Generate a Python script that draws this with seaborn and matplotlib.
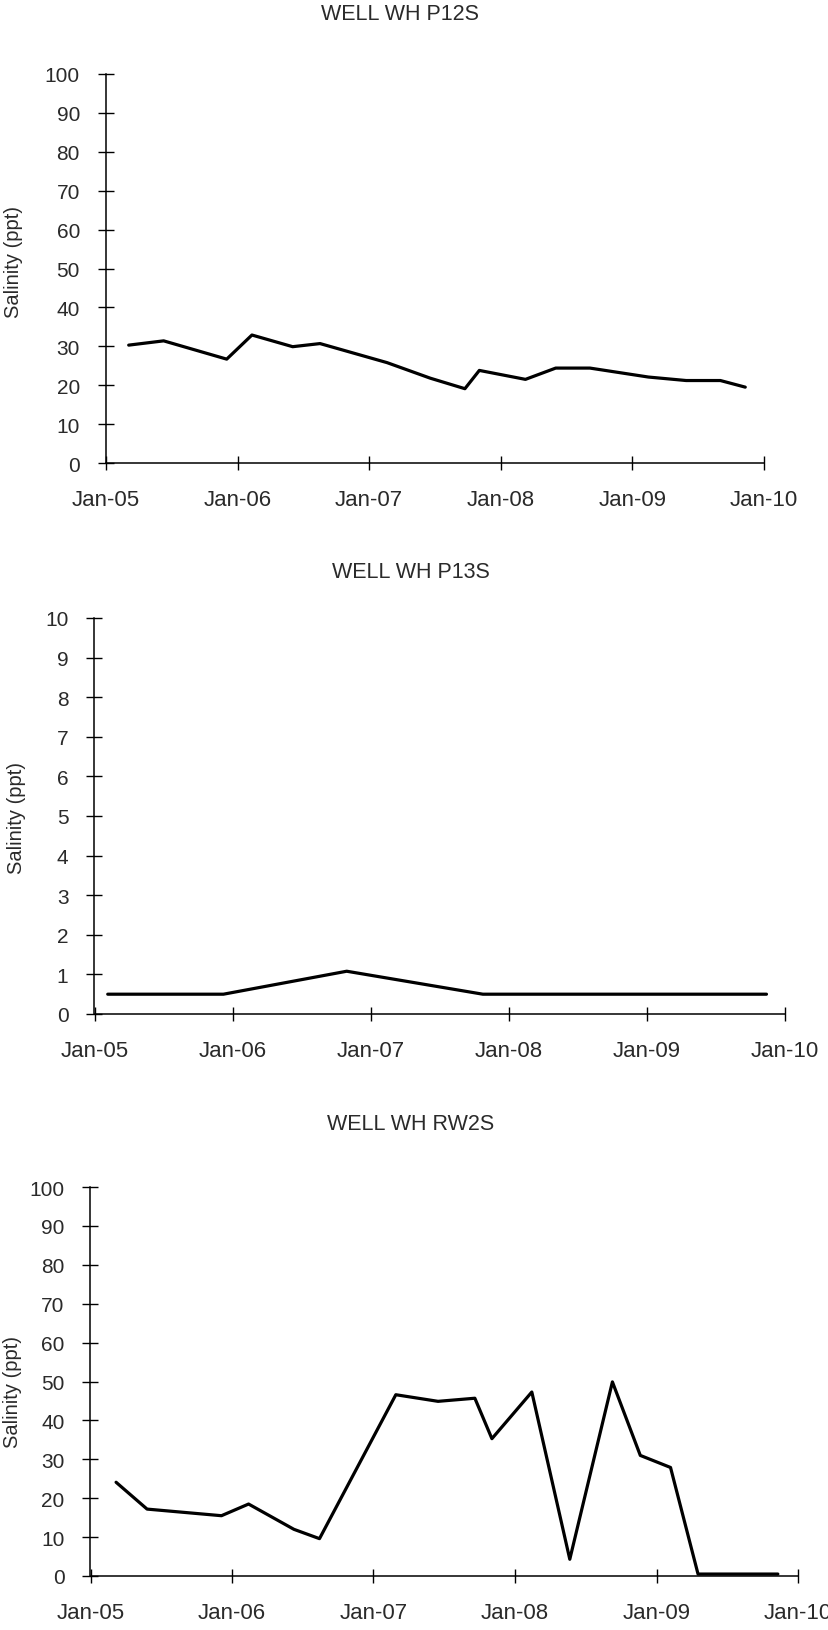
import matplotlib
matplotlib.use("Agg")
import matplotlib.pyplot as plt
import matplotlib.dates as mdates
import numpy as np
import pandas as pd
import seaborn as sns

# ---------------- data ----------------
p12s_dates = ["2005-03-05", "2005-06-10", "2005-12-02", "2006-02-10", "2006-06-03",
              "2006-08-18", "2007-02-20", "2007-06-20", "2007-09-24", "2007-11-03",
              "2008-03-10", "2008-06-02", "2008-09-05", "2009-02-14", "2009-05-30",
              "2009-09-02", "2009-11-10"]
p12s_vals = [30.3, 31.4, 26.7, 32.9, 29.9, 30.7, 25.8, 21.8, 19.1, 23.8,
             21.5, 24.4, 24.4, 22.1, 21.2, 21.2, 19.5]

p13s_dates = ["2005-02-05", "2005-12-08", "2006-10-30", "2007-10-25", "2009-11-13"]
p13s_vals = [0.5, 0.5, 1.08, 0.5, 0.5]

rw2s_dates = ["2005-03-08", "2005-05-27", "2005-12-05", "2006-02-13", "2006-06-10",
              "2006-08-15", "2007-02-28", "2007-06-17", "2007-09-20", "2007-11-03",
              "2008-02-14", "2008-05-22", "2008-09-09", "2008-11-20", "2009-02-06",
              "2009-04-18", "2009-11-10"]
rw2s_vals = [24.1, 17.2, 15.5, 18.5, 12.0, 9.6, 46.6, 44.9, 45.7, 35.3,
             47.3, 4.3, 49.9, 31.0, 27.9, 0.5, 0.5]

titles = ["WELL WH P12S", "WELL WH P13S", "WELL WH RW2S"]
y_label = "Salinity (ppt)"
y_maxes = [100, 10, 100]
y_steps = [10, 1, 10]

# ---------------- style ----------------
sns.set_style("white")
plt.rcParams['font.family'] = ['Liberation Sans', 'DejaVu Sans']
TXT = "#2a2a2a"

W, H = 829, 1631
fig = plt.figure(figsize=(W / 100, H / 100), dpi=100)

# axes boxes in pixels: left, right, top, bottom
boxes = [(106, 764, 75, 464), (94.5, 785, 619, 1015), (90.5, 798, 1188, 1577)]
title_pos = [(400, 14), (411, 572), (411, 1124)]
ylab_pos = [(14, 262), (17, 818), (13, 1392)]

series = [(p12s_dates, p12s_vals), (p13s_dates, p13s_vals), (rw2s_dates, rw2s_vals)]

for i, ((l, r, t, b), (dts, vals)) in enumerate(zip(boxes, series)):
    ax = fig.add_axes([l / W, 1 - b / H, (r - l) / W, (b - t) / H])
    df = pd.DataFrame({"date": pd.to_datetime(dts), "salinity": vals})
    sns.lineplot(data=df, x="date", y="salinity", ax=ax, color="black",
                 linewidth=2.3, estimator=None, sort=False)
    ax.set_xlim(pd.Timestamp("2005-01-01"), pd.Timestamp("2010-01-01"))
    ax.set_ylim(0, y_maxes[i])
    ax.set_yticks(np.arange(0, y_maxes[i] + y_steps[i] / 2, y_steps[i]))
    ax.xaxis.set_major_locator(mdates.YearLocator())
    ax.xaxis.set_major_formatter(mdates.DateFormatter("%b-%y"))
    ax.set_xlabel("")
    ax.set_ylabel("")
    for s in ["top", "right"]:
        ax.spines[s].set_visible(False)
    for s in ["left", "bottom"]:
        ax.spines[s].set_color("black")
        ax.spines[s].set_linewidth(1.1)
    ax.tick_params(axis="y", direction="inout", length=11.5, width=1.0,
                   color="black", pad=13, labelsize=15, labelcolor=TXT, left=True)
    ax.tick_params(axis="x", direction="inout", length=9.5, width=1.0,
                   color="black", pad=14, labelsize=16, labelcolor=TXT, bottom=True)
    ax.set_facecolor("white")
    ax.grid(False)
    tx, ty = title_pos[i]
    fig.text(tx / W, 1 - ty / H, titles[i], ha="center", va="center",
             fontsize=15.5, color=TXT)
    lx, ly = ylab_pos[i]
    fig.text(lx / W, 1 - ly / H, y_label, ha="center", va="center",
             rotation=90, fontsize=14.5, color=TXT)

fig.savefig("out.png", dpi=100, facecolor="white")
